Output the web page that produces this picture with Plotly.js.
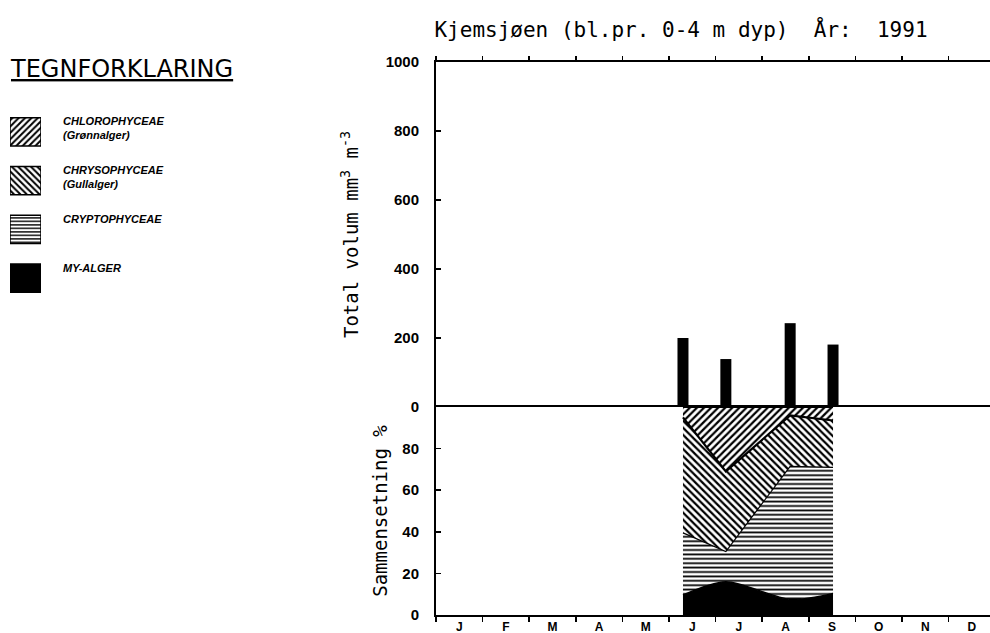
<!DOCTYPE html>
<html>
<head>
<meta charset="utf-8">
<script src="https://cdn.plot.ly/plotly-3.0.1.min.js"></script>
<style>html,body{margin:0;padding:0;background:#fff;}#chart{width:990px;height:633px;}</style>
</head>
<body>
<div id="chart"></div>
<script>
// ---- data (x in months since 1 Jan; 0 = Jan 1) ----
const monthLabels = ['J','F','M','A','M','J','J','A','S','O','N','D'];
const sampleDates = [5.30, 6.22, 7.60, 8.52];        // sampling dates (months since 1 Jan)
const totalVolume = [200, 139, 243, 181];            // mm3 m-3
const myAlger = [9.6, 16, 7.5, 10.4];                // % composition
const cryptophyceae = [29.9, 14.5, 64, 60.6];
const chrysophyceae = [55.5, 38.5, 24.5, 22.5];
const chlorophyceae = [5, 31, 4, 6.5];
const legendLabels = ['CHLOROPHYCEAE','CHRYSOPHYCEAE','CRYPTOPHYCEAE','MY-ALGER'];
const legendSubLabels = ['(Grønnalger)','(Gullalger)','',''];

const W = 990, H = 633;
const px = v => v / W, py = v => 1 - v / H;
const xRange = [0, (990 - 436) / 46.6];
const xDom = [px(436), 1];
const monthMids = monthLabels.map((_, i) => i + 0.5);
const monthBounds = monthLabels.map((_, i) => i).concat([12]);

const pat = (shape, size, sol) => ({shape: shape, fgcolor: 'black', bgcolor: 'white', size: size, solidity: sol});
const legendPatterns = [pat('/', 4.5, 0.45), pat('\\', 4.5, 0.45), pat('-', 3.5, 0.4), null];

const traces = [
  {type: 'bar', x: sampleDates, y: totalVolume, xaxis: 'x2', yaxis: 'y2', width: 0.236,
   marker: {color: 'black', line: {width: 0}}, showlegend: false, name: 'Total volum'},
  {type: 'scatter', mode: 'lines', x: sampleDates, y: myAlger, stackgroup: 'c', name: 'MY-ALGER',
   line: {color: 'black', width: 1.5, shape: 'spline', smoothing: 0.8}, fillcolor: 'black', showlegend: false},
  {type: 'scatter', mode: 'lines', x: sampleDates, y: cryptophyceae, stackgroup: 'c', name: 'CRYPTOPHYCEAE',
   line: {color: 'black', width: 1.2}, fillcolor: 'white', fillpattern: pat('-', 4.4, 0.4), showlegend: false},
  {type: 'scatter', mode: 'lines', x: sampleDates, y: chrysophyceae, stackgroup: 'c', name: 'CHRYSOPHYCEAE',
   line: {color: 'black', width: 2.2}, fillcolor: 'white', fillpattern: pat('\\', 5, 0.45), showlegend: false},
  {type: 'scatter', mode: 'lines', x: sampleDates, y: chlorophyceae, stackgroup: 'c', name: 'CHLOROPHYCEAE',
   line: {color: 'black', width: 2.2}, fillcolor: 'white', fillpattern: pat('/', 5, 0.45), showlegend: false}
];
// legend swatches, one bar per group
legendLabels.forEach((l, i) => {
  const m = {color: legendPatterns[i] ? 'white' : 'black', line: {color: 'black', width: 1.5}};
  if (legendPatterns[i]) m.pattern = legendPatterns[i];
  traces.push({type: 'bar', orientation: 'h', y: [l], x: [1], xaxis: 'x3', yaxis: 'y3', width: 0.58,
    showlegend: false, hoverinfo: 'skip', name: l, marker: m});
});

const tickFont = {family: 'Liberation Sans, Arial, sans-serif', size: 15, color: 'black', weight: 'bold'};
const titleFont = {family: 'DejaVu Sans Mono, monospace', size: 19, color: 'black'};

const annotations = [
  {xref: 'paper', yref: 'paper', x: px(8), y: py(69), xanchor: 'left', yanchor: 'middle', showarrow: false,
   text: '<u>TEGNFORKLARING</u>', font: {family: 'DejaVu Sans, sans-serif', size: 24, color: 'black'}}
];
const legTops = [113, 162, 211, 260];
legendLabels.forEach((l, i) => {
  let t = '<b><i>' + l + '</i></b>';
  if (legendSubLabels[i]) t += '<br><b><i>' + legendSubLabels[i] + '</i></b>';
  annotations.push({xref: 'paper', yref: 'paper', x: px(61), y: py(legTops[i]), xanchor: 'left', yanchor: 'top',
    align: 'left', showarrow: false, text: t,
    font: {family: 'Liberation Sans, Arial, sans-serif', size: 11, color: 'black'}});
});

const layout = {
  width: W, height: H,
  margin: {l: 0, r: 0, t: 0, b: 0, pad: 0},
  paper_bgcolor: 'white', plot_bgcolor: 'white',
  showlegend: false,
  title: {text: 'Kjemsjøen (bl.pr. 0-4 m dyp)  År:  1991', x: px(681), xanchor: 'center', xref: 'paper',
          y: py(30), yanchor: 'middle', yref: 'container',
          font: {family: 'DejaVu Sans Mono, monospace', size: 21, color: 'black'}},
  xaxis: {domain: xDom, range: xRange, anchor: 'y', showline: true, linecolor: 'black', linewidth: 2, mirror: true,
          tickmode: 'array', tickvals: monthMids, ticktext: monthLabels, ticks: '', showgrid: false, zeroline: false,
          tickfont: {family: 'Liberation Sans, Arial, sans-serif', size: 12, color: 'black', weight: 'bold'},
          minor: {tickmode: 'array', tickvals: monthBounds, ticks: 'outside', ticklen: 5, tickcolor: 'black', tickwidth: 1.5, showgrid: false}},
  yaxis: {domain: [1 - 615 / H, 1 - 407 / H], range: [0, 100], anchor: 'x', showline: true, linecolor: 'black', linewidth: 2,
          tickmode: 'array', tickvals: [0, 20, 40, 60, 80], ticks: 'inside', ticklen: 5, tickwidth: 1.5, tickcolor: 'black',
          showgrid: false, zeroline: false, tickfont: tickFont, ticklabelstandoff: 12,
          title: {text: 'Sammensetning %', font: titleFont, standoff: 10}},
  xaxis2: {domain: xDom, range: xRange, anchor: 'y2', side: 'top', showline: true, linecolor: 'black', linewidth: 2,
           tickmode: 'array', tickvals: monthBounds, ticks: 'outside', ticklen: 4, tickwidth: 1.5, tickcolor: 'black',
           showticklabels: false, showgrid: false, zeroline: false},
  yaxis2: {domain: [1 - 407 / H, 1 - 62 / H], range: [0, 1000], anchor: 'x2', showline: true, linecolor: 'black', linewidth: 2,
           tickmode: 'array', tickvals: [0, 200, 400, 600, 800, 1000], ticks: 'inside', ticklen: 5, tickwidth: 1.5, tickcolor: 'black',
           showgrid: false, zeroline: false, tickfont: tickFont, ticklabelstandoff: 12,
           title: {text: 'Total volum mm<sup>3</sup> m<sup>-3</sup>', font: titleFont, standoff: 22}},
  xaxis3: {domain: [px(10), px(41)], range: [0, 1], anchor: 'y3', visible: false, fixedrange: true},
  yaxis3: {domain: [1 - 302.4 / H, 1 - 107.6 / H], anchor: 'x3', type: 'category', autorange: 'reversed', visible: false, fixedrange: true},
  annotations: annotations
};

Plotly.newPlot('chart', traces, layout, {staticPlot: true, displayModeBar: false});
</script>
</body>
</html>
